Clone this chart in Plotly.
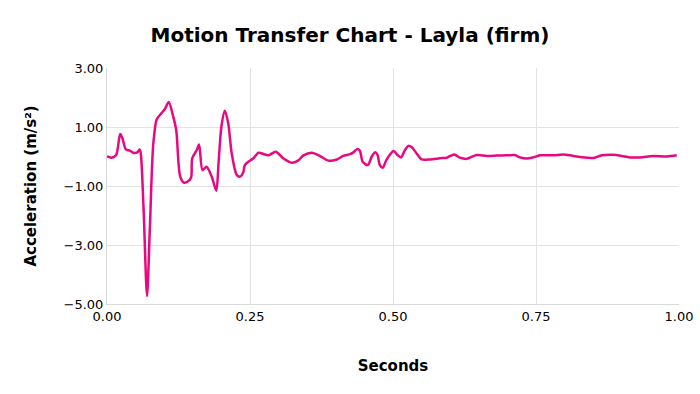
import plotly.graph_objects as go

seconds = [0.000, 0.008, 0.016, 0.023, 0.027, 0.033, 0.040, 0.046, 0.053, 0.057, 0.059,
           0.064, 0.070, 0.075, 0.081, 0.087, 0.094, 0.101, 0.108, 0.115, 0.121,
           0.128, 0.135, 0.141, 0.147, 0.149, 0.157, 0.161, 0.167, 0.174, 0.183,
           0.191, 0.195, 0.200, 0.206, 0.212, 0.218, 0.227, 0.233, 0.238, 0.241,
           0.247, 0.256, 0.265, 0.270, 0.282, 0.295, 0.308, 0.323, 0.334, 0.343,
           0.358, 0.372, 0.387, 0.402, 0.413, 0.425, 0.431, 0.437, 0.442, 0.447,
           0.456, 0.463, 0.469, 0.473, 0.477, 0.482, 0.489, 0.501, 0.508, 0.514,
           0.521, 0.527, 0.533, 0.541, 0.550, 0.565, 0.582, 0.594, 0.607, 0.617,
           0.629, 0.646, 0.664, 0.681, 0.699, 0.713, 0.722, 0.734, 0.745, 0.757,
           0.780, 0.798, 0.815, 0.839, 0.851, 0.865, 0.885, 0.900, 0.914, 0.932,
           0.955, 0.979, 0.996]
acceleration = [0.00, -0.04, 0.05, 0.76, 0.62, 0.24, 0.20, 0.13, 0.14, 0.24, 0.11,
                -1.80, -4.73, -2.38, 0.45, 1.26, 1.44, 1.60, 1.85, 1.41, 0.90,
                -0.68, -0.89, -0.85, -0.71, -0.06, 0.22, 0.41, -0.46, -0.35, -0.68,
                -1.16, -0.23, 1.01, 1.55, 1.12, 0.11, -0.63, -0.68, -0.55, -0.29,
                -0.18, -0.06, 0.13, 0.11, 0.04, 0.16, -0.06, -0.21, -0.14, 0.03,
                0.13, 0.02, -0.14, -0.10, 0.02, 0.08, 0.14, 0.25, 0.20, -0.18,
                -0.29, 0.00, 0.14, 0.05, -0.29, -0.38, -0.10, 0.19, 0.05, -0.03,
                0.22, 0.36, 0.31, 0.11, -0.10, -0.10, -0.06, -0.04, 0.07, -0.04,
                -0.08, 0.05, 0.02, 0.03, 0.04, 0.05, -0.03, -0.07, -0.03, 0.04,
                0.04, 0.07, 0.02, -0.04, -0.05, 0.04, 0.06, 0.02, -0.03, -0.03,
                0.02, 0.00, 0.04]

x_ticks = [0.0, 0.25, 0.5, 0.75, 1.0]
y_ticks = [-5, -3, -1, 1, 3]

font_family = "DejaVu Sans"

fig = go.Figure()
fig.add_trace(go.Scatter(
    x=seconds, y=acceleration, mode="lines",
    line=dict(color="#E8087F", width=2.5, shape="spline", smoothing=0.8),
    showlegend=False, hoverinfo="skip"))

fig.update_layout(
    width=700, height=394,
    paper_bgcolor="white", plot_bgcolor="white",
    margin=dict(l=107, r=21, t=68, b=90),
    title=dict(text="<b>Motion Transfer Chart - Layla (firm)</b>", x=0.5, xanchor="center",
               y=0.91, yanchor="middle",
               font=dict(family=font_family, size=20, color="black")),
    font=dict(family=font_family, color="black"),
)
fig.update_xaxes(
    range=[0, 1], tickvals=x_ticks, tickformat=".2f",
    showgrid=True, gridcolor="#e3e3e3", gridwidth=1,
    showline=True, linecolor="#d9d9d9", linewidth=1,
    zeroline=False, ticks="", tickfont=dict(size=13, color="black"),
    automargin=False,
    title=dict(text="<b>Seconds</b>", font=dict(size=15, color="black"), standoff=37),
)
fig.update_yaxes(
    range=[-5, 3], tickvals=y_ticks, tickformat=".2f",
    showgrid=True, gridcolor="#e3e3e3", gridwidth=1,
    showline=True, linecolor="#d9d9d9", linewidth=1,
    zeroline=False, ticks="", tickfont=dict(size=13, color="black"),
    automargin=False,
    title=dict(text="<b>Acceleration (m/s²)</b>", font=dict(size=15, color="black"), standoff=23),
)

fig.write_html("out.html", config={"displayModeBar": False},
               post_script="document.body.style.margin='0';")
